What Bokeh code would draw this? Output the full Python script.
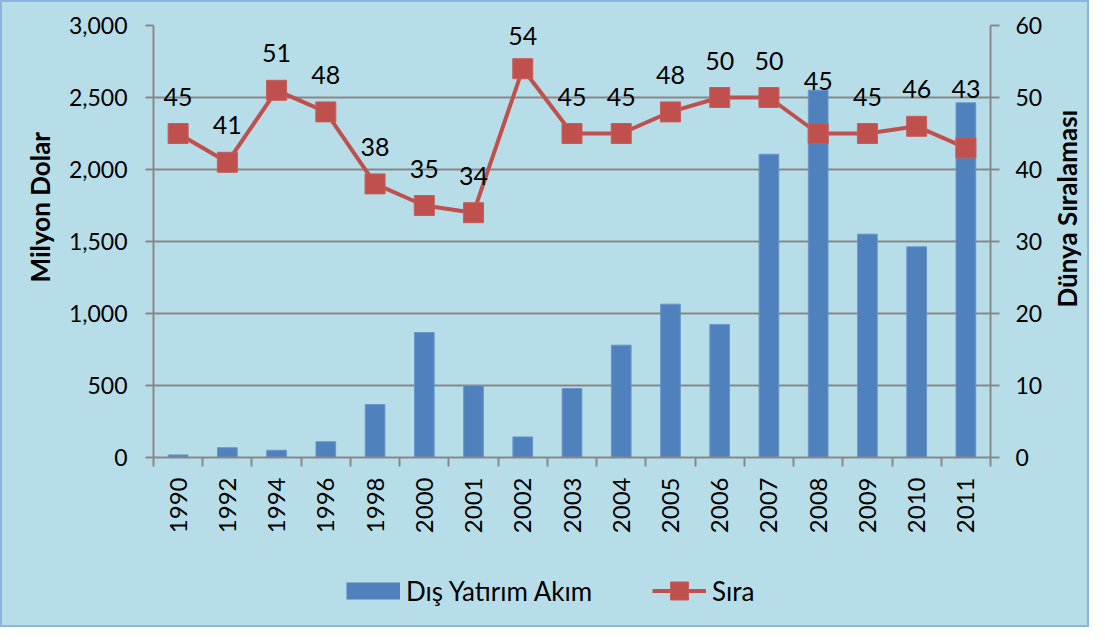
import math
from bokeh.plotting import figure
from bokeh.layouts import column, row
from bokeh.models import (Range1d, LinearAxis, FixedTicker, NumeralTickFormatter,
                          ColumnDataSource, Legend, LegendItem, Title)
from bokeh.core.properties import value
from bokeh.embed import file_html
from bokeh.resources import INLINE

# ---- data ----
years = ["1990", "1992", "1994", "1996", "1998", "2000", "2001", "2002", "2003",
         "2004", "2005", "2006", "2007", "2008", "2009", "2010", "2011"]
fdi_inflow = [18, 68, 50, 110, 368, 868, 500, 143, 479, 780, 1065, 924, 2106,
              2551, 1551, 1463, 2463]
world_rank = [45, 41, 51, 48, 38, 35, 34, 54, 45, 45, 48, 50, 50, 45, 45, 46, 43]
left_ticks = [0, 500, 1000, 1500, 2000, 2500, 3000]
right_ticks = [0, 10, 20, 30, 40, 50, 60]
bar_name = "Dış Yatırım Akım"
line_name = "Sıra"
left_title = "Milyon  Dolar"
right_title = "Dünya  Sıralaması"

# ---- layout / style ----
label_lift_px = [37] * len(years)
label_lift_px[years.index("2002")] = 33
label_lift_px[years.index("2008")] = 53
label_lift_px[years.index("2011")] = 59

BG = "#B7DEE8"
GRID = "#878787"
BAR = "#4F81BD"
RED = "#C0504D"
FONT = "Lato"

xs = list(range(len(years)))
src = ColumnDataSource(dict(
    x=xs, year=years, fdi=fdi_inflow, rank=world_rank,
    rank_text=[str(v) for v in world_rank],
    lift=[-v for v in label_lift_px],
))

MAIN_W, RT_W, TOTAL_W = 1043, 42, 1085
TOP_H, LEG_H = 545, 78

# ================= main chart =================
p = figure(width=MAIN_W, height=TOP_H, output_backend="svg", toolbar_location=None,
           x_range=Range1d(-0.5, len(years) - 0.5), y_range=Range1d(0, 3000),
           min_border_left=151, min_border_right=54, min_border_top=23,
           min_border_bottom=90)
p.extra_y_ranges = {"rank": Range1d(0, 60)}
p.background_fill_color = BG
p.border_fill_color = BG
p.outline_line_color = None

# x axis (labels at centres, ticks at category boundaries)
p.xaxis.ticker = FixedTicker(ticks=xs, minor_ticks=[i - 0.5 for i in range(len(years) + 1)])
p.xaxis.major_label_overrides = {i: y for i, y in enumerate(years)}
p.xaxis.major_tick_line_color = None
p.xaxis.major_tick_in = 0
p.xaxis.major_tick_out = 9
p.xaxis.minor_tick_line_color = GRID
p.xaxis.minor_tick_line_width = 2
p.xaxis.minor_tick_in = 0
p.xaxis.minor_tick_out = 9
p.xaxis.major_label_orientation = math.pi / 2
p.xaxis.major_label_standoff = 11
p.xaxis.axis_line_color = GRID
p.xaxis.axis_line_width = 2
p.xaxis.major_label_text_font = FONT
p.xaxis.major_label_text_font_size = "24px"
p.xaxis.major_label_text_color = "black"

# left axis
p.yaxis.ticker = FixedTicker(ticks=left_ticks)
p.yaxis.formatter = NumeralTickFormatter(format="0,0")
p.yaxis.axis_line_color = GRID
p.yaxis.axis_line_width = 2
p.yaxis.major_tick_line_color = GRID
p.yaxis.major_tick_line_width = 2
p.yaxis.major_tick_in = 0
p.yaxis.major_tick_out = 8
p.yaxis.minor_tick_line_color = None
p.yaxis.major_label_standoff = 18
p.yaxis.major_label_text_font = FONT
p.yaxis.major_label_text_font_size = "23px"
p.yaxis.major_label_text_color = "black"

# right axis
ra = LinearAxis(y_range_name="rank", ticker=FixedTicker(ticks=right_ticks))
ra.axis_line_color = GRID
ra.axis_line_width = 2
ra.major_tick_line_color = GRID
ra.major_tick_line_width = 2
ra.major_tick_in = 0
ra.major_tick_out = 9
ra.minor_tick_line_color = None
ra.major_label_standoff = 16
ra.major_label_text_font = FONT
ra.major_label_text_font_size = "23px"
ra.major_label_text_color = "black"
p.add_layout(ra, "right")

# left axis title (reads bottom-to-top)
p.add_layout(Title(text=left_title, align="left", offset=175, standoff=20,
                   text_font=FONT, text_font_style="bold", text_font_size="26px",
                   text_color="black"), "left")

p.xgrid.grid_line_color = None
p.ygrid.grid_line_color = GRID
p.ygrid.grid_line_width = 2

bars = p.vbar(x="x", top="fdi", width=0.4, source=src, fill_color=BAR,
              line_color="#6A96CB", line_width=1)
ln = p.line(x="x", y="rank", source=src, y_range_name="rank", line_color=RED,
            line_width=4)
mk = p.scatter(x="x", y="rank", source=src, y_range_name="rank", marker="square",
               size=20, fill_color=RED, line_color="#C85C59", line_width=1)
p.text(x="x", y="rank", text="rank_text", source=src, y_range_name="rank",
       y_offset="lift", text_align="center", text_baseline="middle",
       text_font=value(FONT), text_font_size="25px", text_color="black")

# ================= right title strip =================
rt = figure(width=RT_W, height=TOP_H, output_backend="svg", toolbar_location=None,
            x_range=Range1d(0, 1), y_range=Range1d(0, 1),
            x_axis_location=None, y_axis_location=None,
            min_border_left=38, min_border_right=0, min_border_top=23,
            min_border_bottom=90)
rt.background_fill_color = BG
rt.border_fill_color = BG
rt.outline_line_color = None
rt.xgrid.visible = False
rt.ygrid.visible = False
rt.add_layout(Title(text=right_title, align="left", offset=150, standoff=0,
                    vertical_align="middle", text_font=FONT, text_font_style="bold",
                    text_font_size="26px", text_color="black"), "left")

# ================= legend strip =================
lf = figure(width=TOTAL_W, height=LEG_H, output_backend="svg", toolbar_location=None,
            x_range=Range1d(0, 1), y_range=Range1d(0, 1),
            x_axis_location=None, y_axis_location=None, min_border=0)
lf.background_fill_color = BG
lf.border_fill_color = BG
lf.outline_line_color = None
lf.xgrid.visible = False
lf.ygrid.visible = False
# hidden renderers of the same data, used only to draw the legend swatches
sw_bar = lf.line(x="x", y="fdi", source=src, line_color=BAR, line_width=17,
                 line_cap="butt", visible=False)
sw_line = lf.line(x="x", y="rank", source=src, line_color=RED, line_width=4,
                  visible=False)
sw_mk = lf.scatter(x="x", y="rank", source=src, marker="square", fill_color=RED,
                   line_color="#C85C59", line_width=1, visible=False)
lg = Legend(items=[LegendItem(label=bar_name, renderers=[sw_bar]),
                   LegendItem(label=line_name, renderers=[sw_line, sw_mk])],
            orientation="horizontal", location=(344, 12),
            glyph_width=54, glyph_height=45, spacing=60, label_standoff=6,
            padding=0, margin=0, border_line_color=None, background_fill_alpha=0,
            inactive_fill_alpha=0,
            label_text_font=FONT, label_text_font_size="26px",
            label_text_baseline="middle", label_text_color="black")
lf.add_layout(lg, "center")

top_row = row(p, rt, styles={"background-color": BG})
layout = column(top_row, lf,
                styles={"border": "2px solid #8DB3E2", "background-color": BG})

open("out.html", "w").write(file_html(layout, INLINE))
